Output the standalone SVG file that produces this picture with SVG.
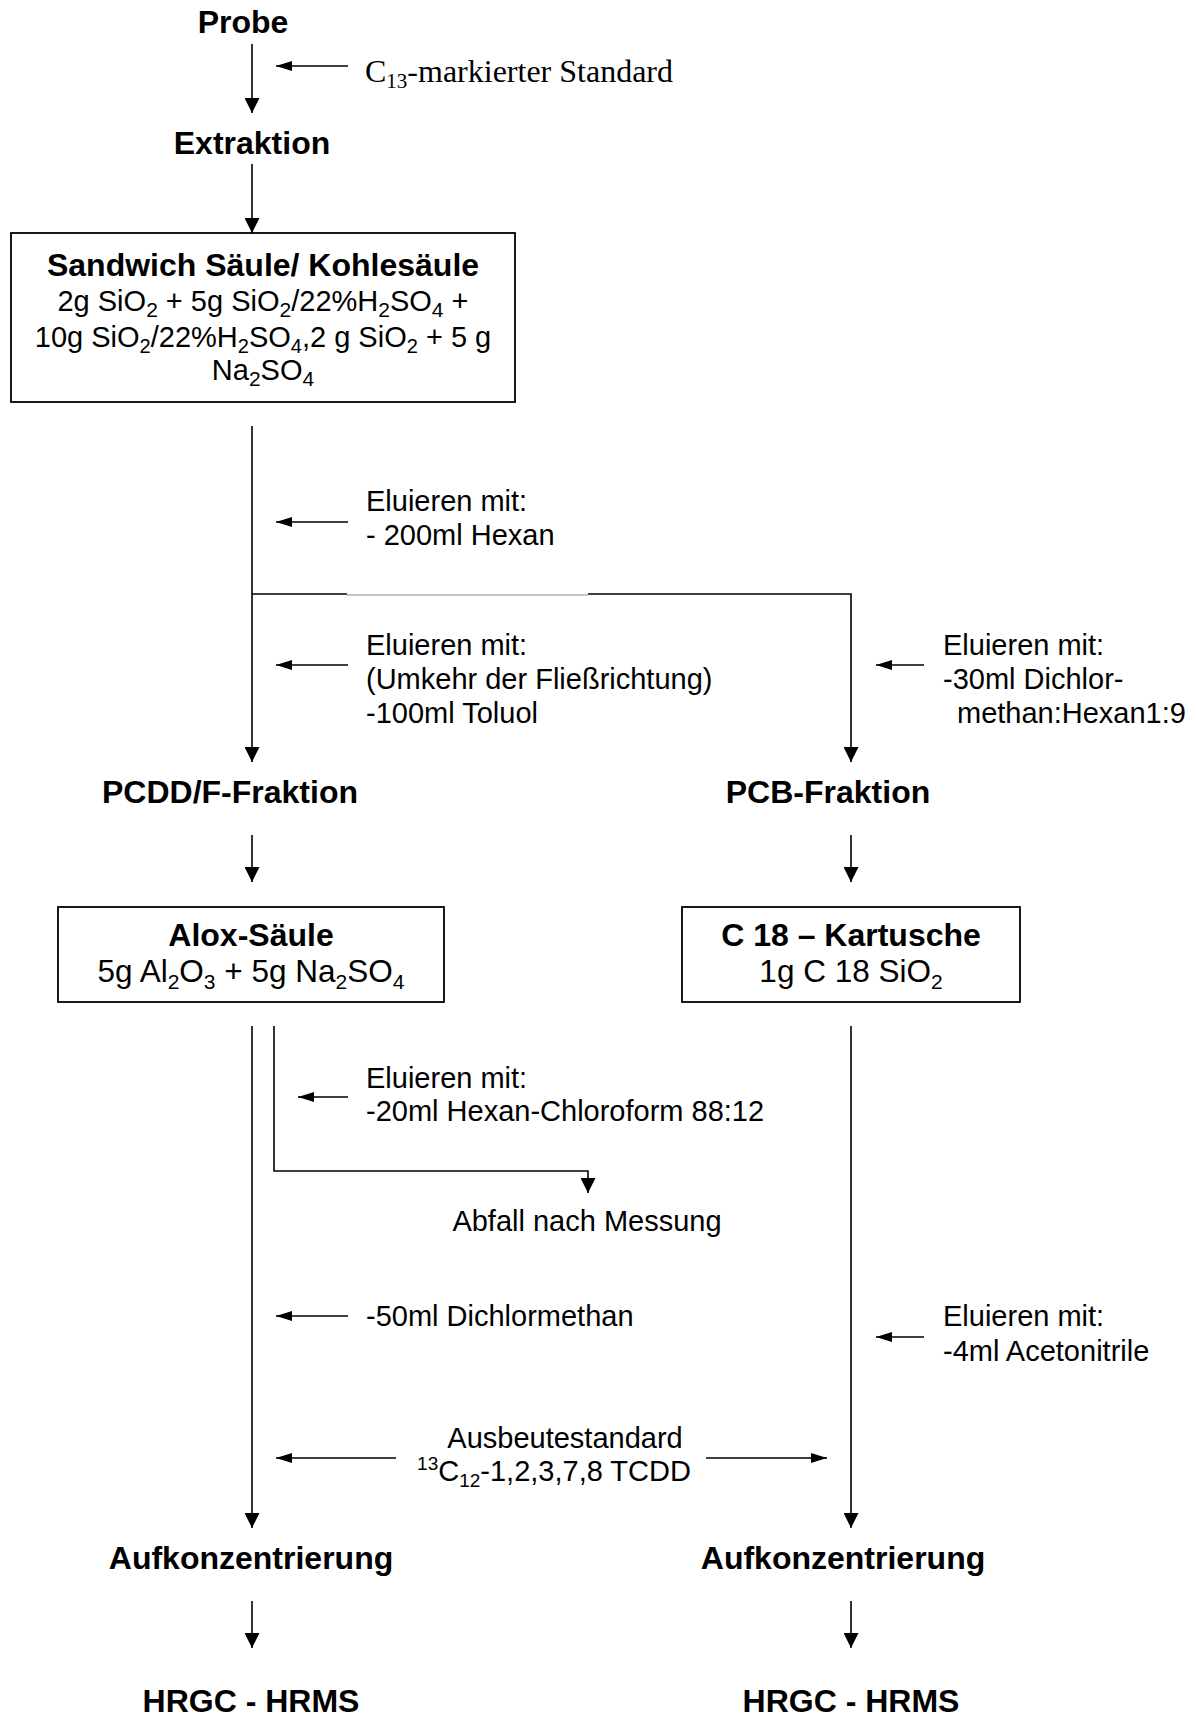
<svg xmlns="http://www.w3.org/2000/svg" width="1196" height="1717" viewBox="0 0 1196 1717">
<style>
.b{font-family:"Liberation Sans",Arial,sans-serif;font-weight:bold;font-size:32px;fill:#000}
.r{font-family:"Liberation Sans",Arial,sans-serif;font-size:29px;fill:#000}
.r2{font-family:"Liberation Sans",Arial,sans-serif;font-size:31.5px;fill:#000}
.t{font-family:"Liberation Serif","Times New Roman",serif;font-size:32px;fill:#000}
.m{text-anchor:middle}
.ln{stroke:#000;stroke-width:1.6;fill:none}
.bx{stroke:#000;stroke-width:1.8;fill:#fff}
.v{marker-end:url(#big)}
.h{marker-end:url(#small)}
</style>
<defs>
<marker id="big" markerUnits="userSpaceOnUse" markerWidth="15" markerHeight="15" refX="15" refY="7.5" orient="auto" viewBox="0 0 15 15"><path d="M0,0 L15,7.5 L0,15 z" fill="#000"/></marker>
<marker id="small" markerUnits="userSpaceOnUse" markerWidth="16" markerHeight="10" refX="16" refY="5" orient="auto" viewBox="0 0 16 10"><path d="M0,0 L16,5 L0,10 z" fill="#000"/></marker>
</defs>
<g id="connectors">
<line class="ln v" x1="252" y1="44" x2="252" y2="113"/>
<line class="ln h" x1="348" y1="66" x2="276" y2="66"/>
<line class="ln v" x1="252" y1="164" x2="252" y2="233"/>
<line class="ln v" x1="252" y1="426" x2="252" y2="762"/>
<line class="ln h" x1="348" y1="522" x2="276" y2="522"/>
<line class="ln" x1="252" y1="594" x2="347" y2="594"/>
<line x1="347" y1="595" x2="588" y2="595" stroke="#888" stroke-width="1"/>
<polyline class="ln v" points="588,594 851,594 851,762"/>
<line class="ln h" x1="348" y1="665" x2="276" y2="665"/>
<line class="ln h" x1="924" y1="665" x2="876" y2="665"/>
<line class="ln v" x1="252" y1="835" x2="252" y2="882"/>
<line class="ln v" x1="851" y1="835" x2="851" y2="882"/>
<line class="ln v" x1="252" y1="1026" x2="252" y2="1528"/>
<polyline class="ln v" points="274,1026 274,1171 588,1171 588,1193"/>
<line class="ln h" x1="348" y1="1097" x2="298" y2="1097"/>
<line class="ln h" x1="348" y1="1316" x2="276" y2="1316"/>
<line class="ln v" x1="851" y1="1026" x2="851" y2="1528"/>
<line class="ln h" x1="924" y1="1337" x2="876" y2="1337"/>
<line class="ln h" x1="396" y1="1458" x2="276" y2="1458"/>
<line class="ln h" x1="706" y1="1458" x2="827" y2="1458"/>
<line class="ln v" x1="252" y1="1601" x2="252" y2="1648"/>
<line class="ln v" x1="851" y1="1601" x2="851" y2="1648"/>
</g>
<g id="probe"><text class="b m" x="243" y="33">Probe</text></g>
<g id="standard"><text class="t" x="365" y="82">C<tspan font-size="21" dy="6">13</tspan><tspan dy="-6">-markierter Standard</tspan></text></g>
<g id="extraktion"><text class="b m" x="252" y="154">Extraktion</text></g>
<g id="sandwich">
<rect class="bx" x="11" y="233" width="504" height="169"/>
<text class="b m" x="263" y="276">Sandwich Säule/ Kohlesäule</text>
<text class="r m" x="263" y="311" font-size="30">2g SiO<tspan font-size="21" dy="6">2</tspan><tspan dy="-6"> + 5g SiO</tspan><tspan font-size="21" dy="6">2</tspan><tspan dy="-6">/22%H</tspan><tspan font-size="21" dy="6">2</tspan><tspan dy="-6">SO</tspan><tspan font-size="21" dy="6">4</tspan><tspan dy="-6"> +</tspan></text>
<text class="r m" x="263" y="347">10g SiO<tspan font-size="20" dy="6">2</tspan><tspan dy="-6">/22%H</tspan><tspan font-size="20" dy="6">2</tspan><tspan dy="-6">SO</tspan><tspan font-size="20" dy="6">4</tspan><tspan dy="-6">,2 g SiO</tspan><tspan font-size="20" dy="6">2</tspan><tspan dy="-6"> + 5 g</tspan></text>
<text class="r m" x="263" y="380" font-size="30">Na<tspan font-size="21" dy="6">2</tspan><tspan dy="-6">SO</tspan><tspan font-size="21" dy="6">4</tspan></text>
</g>
<g id="elu1"><text class="r" x="366" y="511">Eluieren mit:</text><text class="r" x="366" y="545">- 200ml Hexan</text></g>
<g id="elu2"><text class="r" x="366" y="655">Eluieren mit:</text><text class="r" x="366" y="689">(Umkehr der Fließrichtung)</text><text class="r" x="366" y="723">-100ml Toluol</text></g>
<g id="elu3"><text class="r" x="943" y="655">Eluieren mit:</text><text class="r" x="943" y="689">-30ml Dichlor-</text><text class="r" x="957" y="723">methan:Hexan1:9</text></g>
<g id="pcdd"><text class="b m" x="230" y="803">PCDD/F-Fraktion</text></g>
<g id="pcb"><text class="b m" x="828" y="803">PCB-Fraktion</text></g>
<g id="alox">
<rect class="bx" x="58" y="907" width="386" height="95"/>
<text class="b m" x="251" y="946">Alox-Säule</text>
<text class="r2 m" x="251" y="982">5g Al<tspan font-size="21" dy="7">2</tspan><tspan dy="-7">O</tspan><tspan font-size="21" dy="7">3</tspan><tspan dy="-7"> + 5g Na</tspan><tspan font-size="21" dy="7">2</tspan><tspan dy="-7">SO</tspan><tspan font-size="21" dy="7">4</tspan></text>
</g>
<g id="c18">
<rect class="bx" x="682" y="907" width="338" height="95"/>
<text class="b m" x="851" y="946">C 18 – Kartusche</text>
<text class="r2 m" x="851" y="982">1g C 18 SiO<tspan font-size="21" dy="7">2</tspan></text>
</g>
<g id="elu4"><text class="r" x="366" y="1088">Eluieren mit:</text><text class="r" x="366" y="1121">-20ml Hexan-Chloroform 88:12</text></g>
<g id="abfall"><text class="r m" x="587" y="1231">Abfall nach Messung</text></g>
<g id="elu5"><text class="r" x="366" y="1326">-50ml Dichlormethan</text></g>
<g id="elu6"><text class="r" x="943" y="1326">Eluieren mit:</text><text class="r" x="943" y="1361">-4ml Acetonitrile</text></g>
<g id="ausbeute"><text class="r m" x="565" y="1448">Ausbeutestandard</text><text class="r m" x="554" y="1481"><tspan font-size="19" dy="-11">13</tspan><tspan dy="11">C</tspan><tspan font-size="19" dy="6">12</tspan><tspan dy="-6">-1,2,3,7,8 TCDD</tspan></text></g>
<g id="auf1"><text class="b m" x="251" y="1569">Aufkonzentrierung</text></g>
<g id="auf2"><text class="b m" x="843" y="1569">Aufkonzentrierung</text></g>
<g id="hrgc1"><text class="b m" x="251" y="1712">HRGC - HRMS</text></g>
<g id="hrgc2"><text class="b m" x="851" y="1712">HRGC - HRMS</text></g>
</svg>
